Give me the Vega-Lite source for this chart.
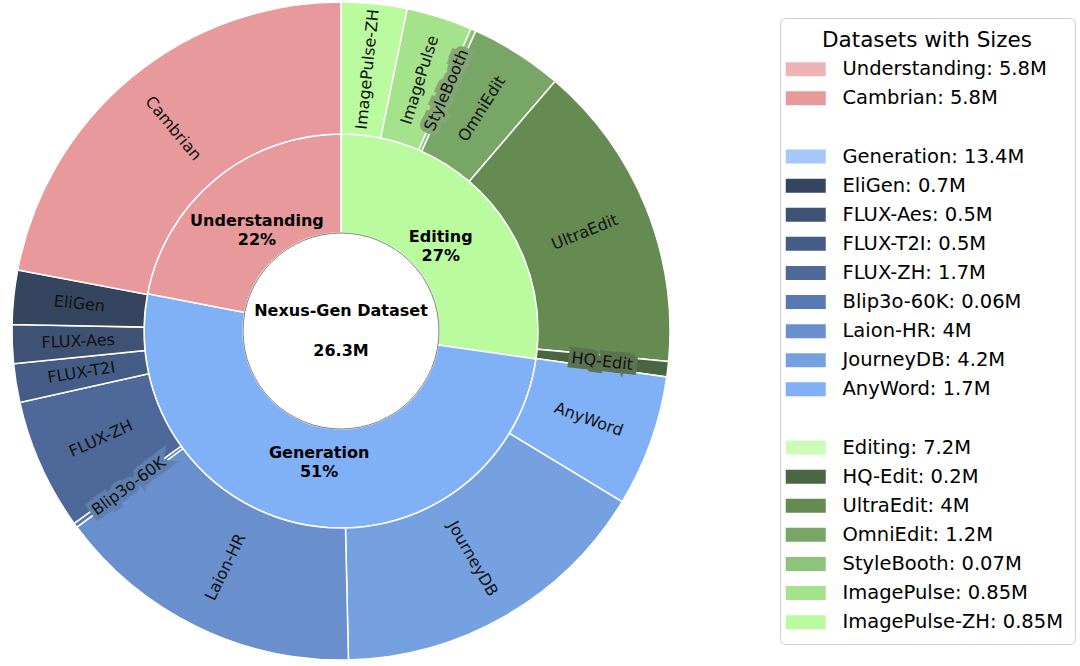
{
  "$schema": "https://vega.github.io/schema/vega-lite/v6.json",
  "autosize": {"type": "none"},
  "padding": {"left": 0, "top": 0, "right": 398, "bottom": 4},
  "width": 682,
  "height": 662,
  "background": "white",
  "config": {"view": {"stroke": null}, "font": "DejaVu Sans"},
  "datasets": {
    "inner": [
      {"group": "Editing", "value": 7.2, "lbl": "Editing\n27%"},
      {"group": "Generation", "value": 13.4, "lbl": "Generation\n51%"},
      {"group": "Understanding", "value": 5.8, "lbl": "Understanding\n22%"}
    ],
    "outer": [
      {"idx": 0, "name": "ImagePulse-ZH", "group": "Editing", "value": 0.85, "label": "ImagePulse-ZH: 0.85M"},
      {"idx": 1, "name": "ImagePulse", "group": "Editing", "value": 0.85, "label": "ImagePulse: 0.85M"},
      {"idx": 2, "name": "StyleBooth", "group": "Editing", "value": 0.07, "label": "StyleBooth: 0.07M"},
      {"idx": 3, "name": "OmniEdit", "group": "Editing", "value": 1.2, "label": "OmniEdit: 1.2M"},
      {"idx": 4, "name": "UltraEdit", "group": "Editing", "value": 4, "label": "UltraEdit: 4M"},
      {"idx": 5, "name": "HQ-Edit", "group": "Editing", "value": 0.2, "label": "HQ-Edit: 0.2M"},
      {"idx": 6, "name": "AnyWord", "group": "Generation", "value": 1.7, "label": "AnyWord: 1.7M"},
      {"idx": 7, "name": "JourneyDB", "group": "Generation", "value": 4.2, "label": "JourneyDB: 4.2M"},
      {"idx": 8, "name": "Laion-HR", "group": "Generation", "value": 4, "label": "Laion-HR: 4M"},
      {"idx": 9, "name": "Blip3o-60K", "group": "Generation", "value": 0.06, "label": "Blip3o-60K: 0.06M"},
      {"idx": 10, "name": "FLUX-ZH", "group": "Generation", "value": 1.7, "label": "FLUX-ZH: 1.7M"},
      {"idx": 11, "name": "FLUX-T2I", "group": "Generation", "value": 0.5, "label": "FLUX-T2I: 0.5M"},
      {"idx": 12, "name": "FLUX-Aes", "group": "Generation", "value": 0.5, "label": "FLUX-Aes: 0.5M"},
      {"idx": 13, "name": "EliGen", "group": "Generation", "value": 0.7, "label": "EliGen: 0.7M"},
      {"idx": 14, "name": "Cambrian", "group": "Understanding", "value": 5.8, "label": "Cambrian: 5.8M"}
    ],
    "center": [
      {"t": "Nexus-Gen Dataset\n26.3M"}
    ]
  },
  "layer": [
    {
      "data": {"name": "inner"},
      "mark": {"type": "arc", "outerRadius": 197, "innerRadius": 98, "stroke": "white", "strokeWidth": 1.5},
      "encoding": {
        "theta": {"field": "value", "type": "quantitative", "stack": true},
        "order": {"field": "group", "type": "nominal"},
        "fill": {
          "field": "group", "type": "nominal", "legend": null,
          "scale": {"domain": ["Editing", "Generation", "Understanding"], "range": ["#bbfba0", "#80b1f6", "#e8999b"]}
        }
      }
    },
    {
      "data": {"name": "outer"},
      "mark": {"type": "arc", "outerRadius": 329, "innerRadius": 197, "stroke": "white", "strokeWidth": 1.5},
      "encoding": {
        "theta": {"field": "value", "type": "quantitative", "stack": true},
        "order": {"field": "idx", "type": "quantitative"},
        "color": {
          "field": "label", "type": "nominal",
          "scale": {
            "domain": ["Understanding: 5.8M", "Cambrian: 5.8M", " ", "Generation: 13.4M", "EliGen: 0.7M", "FLUX-Aes: 0.5M", "FLUX-T2I: 0.5M", "FLUX-ZH: 1.7M", "Blip3o-60K: 0.06M", "Laion-HR: 4M", "JourneyDB: 4.2M", "AnyWord: 1.7M", "  ", "Editing: 7.2M", "HQ-Edit: 0.2M", "UltraEdit: 4M", "OmniEdit: 1.2M", "StyleBooth: 0.07M", "ImagePulse: 0.85M", "ImagePulse-ZH: 0.85M"],
            "range": ["#edb4b5", "#e8999b", "transparent", "#a6c8f9", "#36455f", "#3e5274", "#455d86", "#4d6899", "#5878b3", "#698fcc", "#76a1e0", "#80b1f6", "transparent", "#cdfbb8", "#4a6541", "#658a52", "#78a666", "#8ec47a", "#a4e28b", "#bbfba0"]
          },
          "legend": {
            "title": "Datasets with Sizes",
            "orient": "none", "legendX": 780, "legendY": 18,
            "titleFontSize": 21.5, "titleFont": "DejaVu Sans", "titleFontWeight": "normal", "titleColor": "#000", "titleAnchor": "middle", "titlePadding": 8, "titleLimit": 500,
            "labelFontSize": 19.5, "labelFont": "DejaVu Sans", "labelColor": "#000", "labelLimit": 500,
            "symbolType": "M-2.857,-1H2.857V1H-2.857Z", "symbolSize": 196, "symbolStrokeWidth": 0, "symbolOpacity": 1,
            "symbolOffset": 4, "labelOffset": 27, "rowPadding": 8.1,
            "padding": 12, "strokeColor": "#d0d0d0", "cornerRadius": 5, "fillColor": "white"
          }
        }
      }
    },
    {
      "data": {"values": [{}]},
      "mark": {"type": "arc", "outerRadius": 98, "innerRadius": 0, "fill": "white", "stroke": "#808080", "strokeWidth": 1},
      "encoding": {}
    },
    {
      "data": {"name": "inner"},
      "mark": {"type": "text", "radius": 132, "dy": -8, "font": "DejaVu Sans", "fontSize": 16, "fontWeight": "bold", "color": "#000", "align": "center", "baseline": "middle", "lineBreak": "\n", "lineHeight": 19},
      "encoding": {
        "theta": {"field": "value", "type": "quantitative", "stack": true},
        "order": {"field": "group", "type": "nominal"},
        "text": {"field": "lbl"}
      }
    },
    {
      "data": {"name": "outer"},
      "transform": [
        {"stack": "value", "groupby": [], "sort": [{"field": "idx", "order": "ascending"}], "as": ["s0", "s1"]},
        {"joinaggregate": [{"op": "sum", "field": "value", "as": "tot"}]},
        {"calculate": "180 * (datum.s0 + datum.s1) / datum.tot", "as": "mid"},
        {"calculate": "datum.mid < 180 ? datum.mid - 90 : datum.mid - 270", "as": "rot"}
      ],
      "encoding": {
        "theta": {"field": "value", "type": "quantitative", "stack": true},
        "order": {"field": "idx", "type": "quantitative"},
        "text": {"field": "name"},
        "angle": {"field": "rot", "type": "quantitative", "scale": null}
      },
      "layer": [
        {
          "mark": {"type": "text", "radius": 263, "font": "DejaVu Sans", "fontSize": 16, "align": "center", "baseline": "middle", "strokeWidth": 9, "strokeJoin": "miter"},
          "encoding": {
            "stroke": {"field": "name", "type": "nominal", "legend": null, "scale": {"domain": ["HQ-Edit", "StyleBooth", "Blip3o-60K"], "range": ["#5a7350", "#85a676", "#5f7fae"]}},
            "fill": {"field": "name", "type": "nominal", "legend": null, "scale": {"domain": ["HQ-Edit", "StyleBooth", "Blip3o-60K"], "range": ["#5a7350", "#85a676", "#5f7fae"]}},
            "opacity": {"condition": {"test": "indexof(['HQ-Edit','StyleBooth','Blip3o-60K'], datum.name) >= 0", "value": 1}, "value": 0}
          }
        },
        {
          "mark": {"type": "text", "radius": 263, "font": "DejaVu Sans", "fontSize": 16, "color": "#111111", "align": "center", "baseline": "middle"}
        }
      ]
    },
    {
      "data": {"name": "center"},
      "mark": {"type": "text", "dy": -20, "font": "DejaVu Sans", "fontSize": 16, "fontWeight": "bold", "color": "#000", "align": "center", "baseline": "middle", "lineBreak": "\n", "lineHeight": 40},
      "encoding": {"text": {"field": "t"}}
    }
  ],
  "resolve": {"scale": {"theta": "independent"}}
}
